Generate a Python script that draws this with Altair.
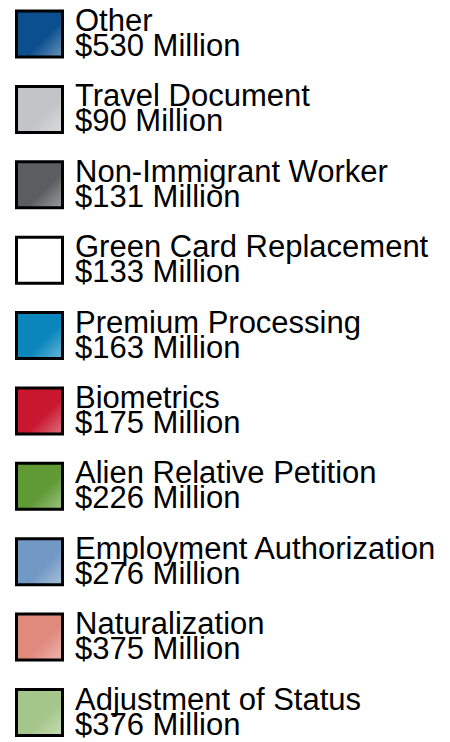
import altair as alt
import pandas as pd

categories = [
    "Other",
    "Travel Document",
    "Non-Immigrant Worker",
    "Green Card Replacement",
    "Premium Processing",
    "Biometrics",
    "Alien Relative Petition",
    "Employment Authorization",
    "Naturalization",
    "Adjustment of Status",
]
amounts = [530, 90, 131, 133, 163, 175, 226, 276, 375, 376]
colors = [
    "#0b4f8e", "#c3c4c7", "#5c5d60", "#ffffff", "#0a86bd",
    "#c8172f", "#5f9a35", "#7298c4", "#e08a7e", "#a4c68a",
]

df = pd.DataFrame({"category": categories, "amount": amounts})

yenc = alt.Y(
    "category:N",
    sort=categories,
    scale=alt.Scale(type="point", range=[26, 704.5], padding=0),
    axis=None,
)

base = alt.Chart(df).transform_calculate(
    label="datum.category + '\\n$' + datum.amount + ' Million'"
).encode(y=yenc)

swatch = base.mark_square(size=46 * 46, opacity=1, strokeWidth=0).encode(
    x=alt.value(31.5),
    color=alt.Color(
        "category:N",
        scale=alt.Scale(domain=categories, range=colors),
        legend=None,
    ),
)

sheen = base.mark_square(
    size=46 * 46,
    opacity=1,
    fill=alt.Gradient(
        gradient="linear",
        stops=[
            alt.GradientStop(offset=0, color="rgba(255,255,255,0)"),
            alt.GradientStop(offset=0.6, color="rgba(255,255,255,0)"),
            alt.GradientStop(offset=1, color="rgba(255,255,255,0.4)"),
        ],
        x1=0, y1=0, x2=1, y2=1,
    ),
    stroke="black",
    strokeWidth=3,
).encode(x=alt.value(31.5))

labels = base.mark_text(
    align="left",
    baseline="middle",
    fontSize=31,
    font="Liberation Sans",
    lineBreak="\n",
    lineHeight=25,
    dy=-12,
    color="black",
).encode(x=alt.value(67), text="label:N")

chart = (
    alt.layer(swatch, sheen, labels)
    .properties(width=434, height=734, autosize=alt.AutoSizeParams(type="none"), padding=0)
    .configure_view(stroke=None)
)

chart.save("out.html", embed_options={"renderer": "svg", "actions": False})
